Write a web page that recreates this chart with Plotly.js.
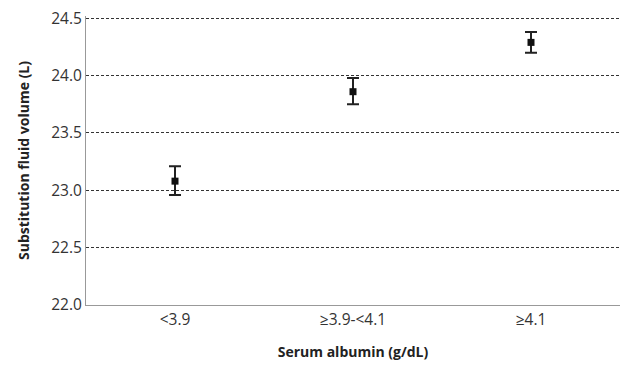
<!DOCTYPE html>
<html><head><meta charset="utf-8">
<script src="https://cdn.plot.ly/plotly-3.0.1.min.js"></script>
<style>html,body{margin:0;padding:0;background:#fff}</style>
</head><body><div id="chart" style="width:626px;height:366px"></div>
<script>
const categories = ["<3.9", "≥3.9-<4.1", "≥4.1"];
const means = [23.08, 23.86, 24.29];
const errPlus = [0.13, 0.12, 0.09];
const errMinus = [0.12, 0.11, 0.09];
const yTicks = [22.0, 22.5, 23.0, 23.5, 24.0, 24.5];

const trace = {
  x: categories, y: means, type: 'scatter', mode: 'markers',
  marker: {symbol: 'square', size: 7, color: '#111'},
  error_y: {type: 'data', symmetric: false, array: errPlus, arrayminus: errMinus,
            color: '#222', thickness: 2, width: 6},
  hoverinfo: 'none', cliponaxis: false
};
const fam = '"Open Sans", "Liberation Sans", sans-serif';
const layout = {
  width: 626, height: 366,
  margin: {l: 86, r: 6, t: 16, b: 61},
  paper_bgcolor: '#fff', plot_bgcolor: '#fff',
  showlegend: false,
  font: {family: fam, color: '#333'},
  xaxis: {
    type: 'category', range: [-0.5, 2.5],
    showgrid: false, zeroline: false,
    showline: true, linecolor: '#999', linewidth: 1,
    ticks: '', tickfont: {size: 15.5, color: '#333', family: fam},
    title: {text: 'Serum albumin (g/dL)', font: {size: 14, color: '#222', family: fam, weight: 'bold'}, standoff: 18}
  },
  yaxis: {
    range: [22.0, 24.52], tickvals: yTicks, ticktext: yTicks.map(v => v.toFixed(1)),
    showgrid: true, gridcolor: '#333', griddash: '3px,2px', gridwidth: 1,
    zeroline: false, showline: true, linecolor: '#999', linewidth: 1,
    ticks: '', tickfont: {size: 15.5, color: '#333', family: fam},
    title: {text: 'Substitution fluid volume (L)', font: {size: 14, color: '#222', family: fam, weight: 'bold'}, standoff: 18}
  }
};
Plotly.newPlot('chart', [trace], layout, {staticPlot: true});
</script></body></html>
